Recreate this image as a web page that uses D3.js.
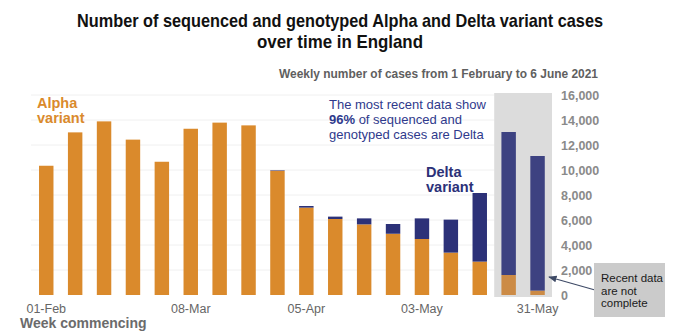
<!DOCTYPE html>
<html><head><meta charset="utf-8">
<script src="https://cdn.jsdelivr.net/npm/d3@7"></script>
<style>body{margin:0;background:#fff}svg{display:block;font-family:"Liberation Sans",Arial,sans-serif}</style>
</head><body><svg id="c" width="680" height="331"></svg>
<script>
const weeks = ["01-Feb","08-Feb","15-Feb","22-Feb","01-Mar","08-Mar","15-Mar","22-Mar","29-Mar","05-Apr","12-Apr","19-Apr","26-Apr","03-May","10-May","17-May","24-May","31-May"];
const alpha = [10340,13010,13890,12430,10660,13300,13790,13570,9940,6990,6080,5650,4900,4480,3390,2670,1600,350];
const delta = [0,0,0,0,0,0,0,0,40,130,190,480,780,1650,2640,5490,11440,10770];
const yTicks = [0,2000,4000,6000,8000,10000,12000,14000,16000];
const xLabels = ["01-Feb","08-Mar","05-Apr","03-May","31-May"];
const incompleteWeeks = ["24-May","31-May"];

const svg = d3.select("#c");
const x = d3.scaleBand().domain(weeks).range([31.8, 552]).paddingInner(0.5).paddingOuter(0.25);
const y = d3.scaleLinear().domain([0,16000]).range([295,95]);
const ORANGE = "#da8a2c", NAVY = "#2c3178", TXT_NAVY = "#2f3a8c";

// gridlines
svg.append("g").selectAll("line").data(yTicks.slice(1)).join("line")
  .attr("x1", 31).attr("x2", 552).attr("y1", d=>y(d)).attr("y2", d=>y(d))
  .attr("stroke", "#f0f0f0").attr("stroke-width", 1);

// shaded incomplete region (background)
const sx0 = x(incompleteWeeks[0]) - x.step()*x.paddingInner()/2;
svg.append("rect").attr("x", sx0).attr("y", y(16000)-2)
  .attr("width", 552 - sx0).attr("height", y(0) - y(16000) + 4)
  .attr("fill", "#dcdcdc");

// bars
const g = svg.append("g");
weeks.forEach((w,i) => {
  const dim = incompleteWeeks.includes(w);
  g.append("rect").attr("x", x(w)).attr("width", x.bandwidth())
    .attr("y", y(alpha[i])).attr("height", y(0)-y(alpha[i]))
    .attr("fill", dim ? "#cc8b46" : ORANGE);
  if (delta[i] > 0) {
    g.append("rect").attr("x", x(w)).attr("width", x.bandwidth())
      .attr("y", y(alpha[i]+delta[i])).attr("height", y(alpha[i]) - y(alpha[i]+delta[i]))
      .attr("fill", dim ? "#3d4281" : NAVY);
  }
});

// right axis labels
svg.append("g").selectAll("text").data(yTicks).join("text")
  .attr("x", 561).attr("y", d=>y(d)+4.5)
  .attr("font-size", 12.5).attr("font-weight", "bold").attr("fill", "#8a8a8a")
  .text(d=>d3.format(",")(d));

// x labels
svg.append("g").selectAll("text").data(xLabels).join("text")
  .attr("x", d=>x(d)+x.bandwidth()/2).attr("y", 313).attr("text-anchor","middle")
  .attr("font-size", 12.5).attr("fill", "#666")
  .text(d=>d);

svg.append("text").attr("x", 20).attr("y", 328).attr("font-size", 14).attr("font-weight","bold")
  .attr("fill", "#6b6b6b").text("Week commencing");

// title
svg.append("text").attr("x", 340).attr("y", 27).attr("text-anchor","middle")
  .attr("font-size", 18.5).attr("font-weight","bold").attr("fill","#111")
  .attr("textLength", 526).attr("lengthAdjust","spacingAndGlyphs")
  .text("Number of sequenced and genotyped Alpha and Delta variant cases");
svg.append("text").attr("x", 340).attr("y", 48).attr("text-anchor","middle")
  .attr("font-size", 18.5).attr("font-weight","bold").attr("fill","#111")
  .attr("textLength", 166).attr("lengthAdjust","spacingAndGlyphs")
  .text("over time in England");

svg.append("text").attr("x", 279).attr("y", 78)
  .attr("font-size", 12.5).attr("font-weight","bold").attr("fill","#5f5f5f")
  .attr("textLength", 319).attr("lengthAdjust","spacingAndGlyphs")
  .text("Weekly number of cases from 1 February to 6 June 2021");

// series labels
const alphaT = svg.append("text").attr("font-size", 14.5).attr("font-weight","bold").attr("fill", ORANGE);
alphaT.append("tspan").attr("x", 37).attr("y", 108).text("Alpha");
alphaT.append("tspan").attr("x", 37).attr("y", 123).text("variant");
const deltaT = svg.append("text").attr("font-size", 14.5).attr("font-weight","bold").attr("fill", NAVY);
deltaT.append("tspan").attr("x", 426).attr("y", 177).text("Delta");
deltaT.append("tspan").attr("x", 426).attr("y", 192).text("variant");

// note
const note = svg.append("text").attr("font-size", 13).attr("fill", TXT_NAVY);
note.append("tspan").attr("x", 329).attr("y", 109).text("The most recent data show");
const l2 = note.append("tspan").attr("x", 329).attr("y", 124);
l2.append("tspan").attr("font-weight","bold").text("96%");
l2.append("tspan").text(" of sequenced and");
note.append("tspan").attr("x", 329).attr("y", 139).text("genotyped cases are Delta");

// incomplete annotation box
svg.append("defs").append("marker").attr("id","arr").attr("viewBox","0 0 10 10")
  .attr("refX", 9).attr("refY", 5).attr("markerWidth", 7).attr("markerHeight", 7).attr("orient","auto")
  .append("path").attr("d","M0,1 L10,5 L0,9 z").attr("fill","#3e4a66");
svg.append("line").attr("x1", 595).attr("y1", 290).attr("x2", 549).attr("y2", 277)
  .attr("stroke","#3e4a66").attr("stroke-width",1.2).attr("marker-end","url(#arr)");
svg.append("rect").attr("x", 594).attr("y", 263).attr("width", 71).attr("height", 54).attr("fill","#cbcbcb");
const bt = svg.append("text").attr("font-size", 11.5).attr("fill","#1a1a1a");
["Recent data","are not","complete"].forEach((s,i)=>bt.append("tspan").attr("x",601).attr("y",282+i*12.5).text(s));
</script></body></html>
